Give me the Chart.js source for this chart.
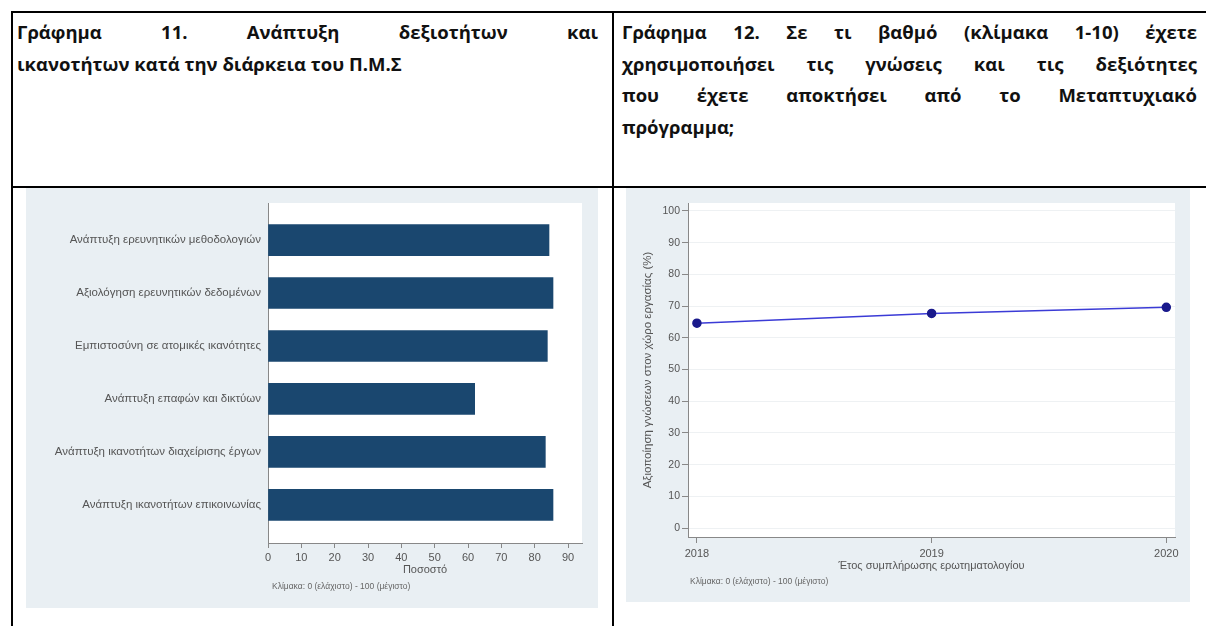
<!DOCTYPE html>
<html>
<head>
<meta charset="utf-8">
<script src="https://cdn.jsdelivr.net/npm/chart.js@4.4.1/dist/chart.umd.min.js"></script>
<style>
  body { margin: 0; background: #fff; width: 1206px; height: 626px; position: relative; overflow: hidden; }
  .rule { position: absolute; background: #000; }
  .ttl { position: absolute; font-family: "Open Sans", sans-serif; font-weight: bold; font-size: 18.5px; color: #111; }
  .ttl div { height: 31.5px; line-height: 31.5px; white-space: nowrap; }
  .ttl .j { text-align: justify; text-align-last: justify; }
  .panel { position: absolute; background: #e9eff3; }
  .panel canvas { display: block; }
  .note { position: absolute; font-family: "Liberation Sans", sans-serif; font-size: 8.5px; color: #666; white-space: nowrap; }
</style>
</head>
<body>
<div class="rule" style="left:11px;top:11px;width:1195px;height:2px"></div>
<div class="rule" style="left:11px;top:186px;width:1195px;height:2px"></div>
<div class="rule" style="left:11px;top:11px;width:2px;height:615px"></div>
<div class="rule" style="left:612px;top:11px;width:2px;height:615px"></div>

<div class="ttl" style="left:17px;top:16px;width:581px">
  <div class="j">Γράφημα 11. Ανάπτυξη δεξιοτήτων και</div>
  <div>ικανοτήτων κατά την διάρκεια του Π.Μ.Σ</div>
</div>
<div class="ttl" style="left:622px;top:16px;width:575px">
  <div class="j">Γράφημα 12. Σε τι βαθμό (κλίμακα 1-10) έχετε</div>
  <div class="j">χρησιμοποιήσει τις γνώσεις και τις δεξιότητες</div>
  <div class="j">που έχετε αποκτήσει από το Μεταπτυχιακό</div>
  <div>πρόγραμμα;</div>
</div>

<div class="panel" style="left:26px;top:188px;width:572px;height:420px"><canvas id="skillsChart" width="572" height="420"></canvas></div>
<div class="panel" style="left:626px;top:188px;width:564px;height:414px"><canvas id="useChart" width="564" height="414"></canvas></div>
<div class="note" style="left:272px;top:581px">Κλίμακα: 0 (ελάχιστο) - 100 (μέγιστο)</div>
<div class="note" style="left:690px;top:576px">Κλίμακα: 0 (ελάχιστο) - 100 (μέγιστο)</div>

<script>
// Γράφημα 11
const skills = [
    'Ανάπτυξη ερευνητικών μεθοδολογιών',
    'Αξιολόγηση ερευνητικών δεδομένων',
    'Εμπιστοσύνη σε ατομικές ικανότητες',
    'Ανάπτυξη επαφών και δικτύων',
    'Ανάπτυξη ικανοτήτων διαχείρισης έργων',
    'Ανάπτυξη ικανοτήτων επικοινωνίας'
];
const skillScores = [84.3, 85.5, 83.8, 62.0, 83.2, 85.5];

// Γράφημα 12
const years = [2018, 2019, 2020];
const usePct = [64.6, 67.7, 69.6];

Chart.defaults.font.family = '"Liberation Sans", Arial, sans-serif';
Chart.defaults.color = '#555';
Chart.defaults.animation = false;

// white plot region like the stata graph
const plotBg = {
    id: 'plotBg',
    beforeDraw(chart) {
        const a = chart.chartArea, ctx = chart.ctx;
        ctx.save();
        ctx.fillStyle = '#fff';
        ctx.fillRect(a.left, a.top, a.right - a.left, a.bottom - a.top);
        ctx.restore();
    }
};

new Chart(document.getElementById('skillsChart'), {
    type: 'bar',
    data: {
        datasets: [{
            data: skills.map((s, i) => ({ x: skillScores[i], y: i })),
            backgroundColor: '#1a476f',
            barThickness: 31
        }]
    },
    plugins: [plotBg],
    options: {
        indexAxis: 'y',
        responsive: false,
        layout: { padding: { top: 15, right: 16, left: 0, bottom: 0 } },
        plugins: { legend: { display: false }, tooltip: { enabled: false } },
        scales: {
            x: {
                type: 'linear', min: 0, max: 94.2,
                afterFit: s => { s.height = 65; },
                ticks: { stepSize: 10, includeBounds: false, padding: 3, font: { size: 11 } },
                grid: { drawOnChartArea: false, tickLength: 5, color: '#888' },
                border: { color: '#888' },
                title: { display: true, text: 'Ποσοστό', font: { size: 11 }, padding: { top: 0, bottom: 31 } }
            },
            y: {
                type: 'linear', reverse: true, min: -0.7, max: 5.72, bounds: 'data',
                offset: false,
                afterBuildTicks: s => { s.ticks = skills.map((c, i) => ({ value: i })); },
                afterFit: s => { s.width = 242; },
                ticks: {
                    padding: 7, font: { size: 11.5 },
                    callback: v => skills[v]
                },
                grid: { display: false, drawTicks: false, offset: false },
                border: { display: true, color: '#888' }
            }
        }
    }
});

new Chart(document.getElementById('useChart'), {
    type: 'line',
    data: {
        datasets: [{
            data: years.map((y, i) => ({ x: y, y: usePct[i] })),
            borderColor: '#3b3bd6',
            borderWidth: 1.5,
            pointBackgroundColor: '#1a1a8c',
            pointBorderColor: '#1a1a8c',
            pointRadius: 4
        }]
    },
    plugins: [plotBg],
    options: {
        responsive: false,
        layout: { padding: { top: 15, right: 15, left: 0, bottom: 0 } },
        plugins: { legend: { display: false }, tooltip: { enabled: false } },
        scales: {
            x: {
                type: 'linear', min: 2017.962, max: 2020.037,
                afterFit: s => { s.height = 65; },
                ticks: { stepSize: 1, includeBounds: false, padding: 4, font: { size: 11 }, callback: v => String(v) },
                grid: { drawOnChartArea: false, tickLength: 6, color: '#888' },
                border: { color: '#888' },
                title: { display: true, text: 'Έτος συμπλήρωσης ερωτηματολογίου', font: { size: 11 }, padding: { top: 0, bottom: 29 } }
            },
            y: {
                type: 'linear', min: -2.8, max: 102.5,
                afterFit: s => { s.width = 62; },
                ticks: { stepSize: 10, includeBounds: false, padding: 2, font: { size: 10.5 } },
                grid: { color: '#eef1f3', tickColor: '#888', tickLength: 6 },
                border: { color: '#888' },
                title: { display: true, text: 'Αξιοποίηση γνώσεων στον χώρο εργασίας (%)', font: { size: 11.5 }, padding: { top: 15, bottom: 0 } }
            }
        }
    }
});
</script>
</body>
</html>
